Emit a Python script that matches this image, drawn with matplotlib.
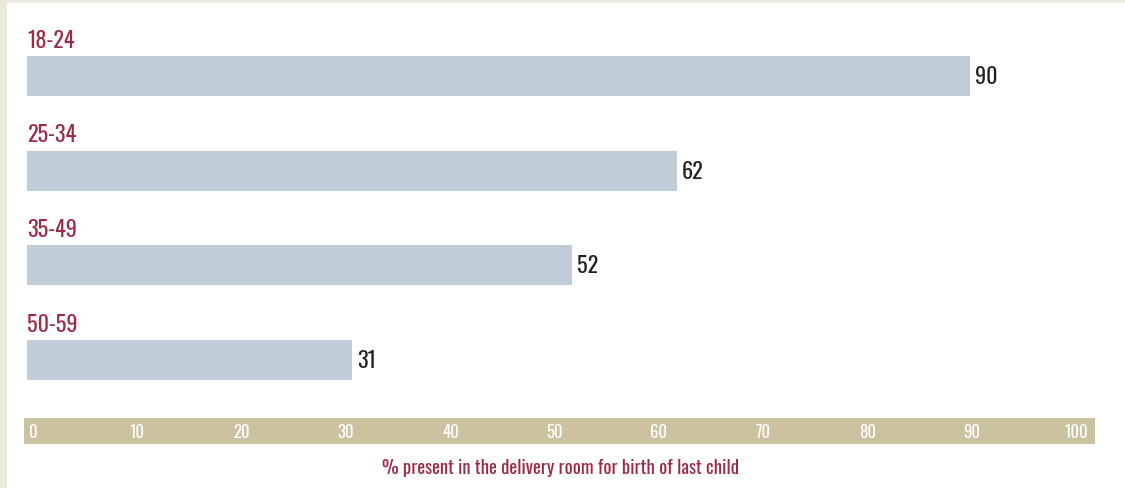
import matplotlib.pyplot as plt
from matplotlib.patches import Rectangle

ages = ['18-24', '25-34', '35-49', '50-59']
values = [90, 62, 52, 31]
tick_values = [0, 10, 20, 30, 40, 50, 60, 70, 80, 90, 100]
xlabel = '% present in the delivery room for birth of last child'

W, H = 1125, 489
red = '#9B2C47'
bar_col = '#C0CCD7'
band_col = '#CBC3A0'

plt.rcParams['font.family'] = ['Oswald', 'Fira Sans Extra Condensed', 'DejaVu Sans']

fig = plt.figure(figsize=(W / 100, H / 100), dpi=100, facecolor='#ECE9DD')
fig.patches.append(Rectangle((7 / W, 0), 1, 1 - 4 / H, transform=fig.transFigure,
                             facecolor='white', edgecolor='none', zorder=-1))

# main bars
top_px, bot_px = 29.7, 408.3
ax = fig.add_axes([27 / W, 1 - bot_px / H, 1048 / W, (bot_px - top_px) / H])
ax.set_facecolor('none')
ypos = list(range(len(ages)))
ax.barh(ypos, values, height=0.4225, color=bar_col)
ax.set_xlim(0, 100)
ax.set_ylim(3.5, -0.5)
for y, lab, v in zip(ypos, ages, values):
    ax.text(0, y - 0.31, lab, color=red, fontsize=16, fontweight='bold',
            va='baseline', ha='left')
    ax.text(v + 0.5, y, str(v), color='#222222', fontsize=16, fontweight='bold',
            va='center', ha='left')
ax.axis('off')

# axis band
bx0, bx1 = 24, 1095
by0, by1 = 419, 445
bax = fig.add_axes([bx0 / W, 1 - by1 / H, (bx1 - bx0) / W, (by1 - by0) / H])
bax.set_facecolor(band_col)
bax.set_xlim((bx0 - 33) / 10.43, (bx1 - 33) / 10.43)
bax.set_ylim(0, 1)
for t in tick_values:
    bax.text(t, 0.5, str(t), color='white', fontsize=12, fontweight='normal',
             ha='center', va='center')
bax.set_xticks([])
bax.set_yticks([])
for s in bax.spines.values():
    s.set_visible(False)

fig.text(561 / W, 1 - 474 / H, xlabel, color=red, fontsize=13.5, fontweight='bold',
         ha='center', va='baseline')

fig.savefig('out.png', dpi=100, facecolor=fig.get_facecolor())
